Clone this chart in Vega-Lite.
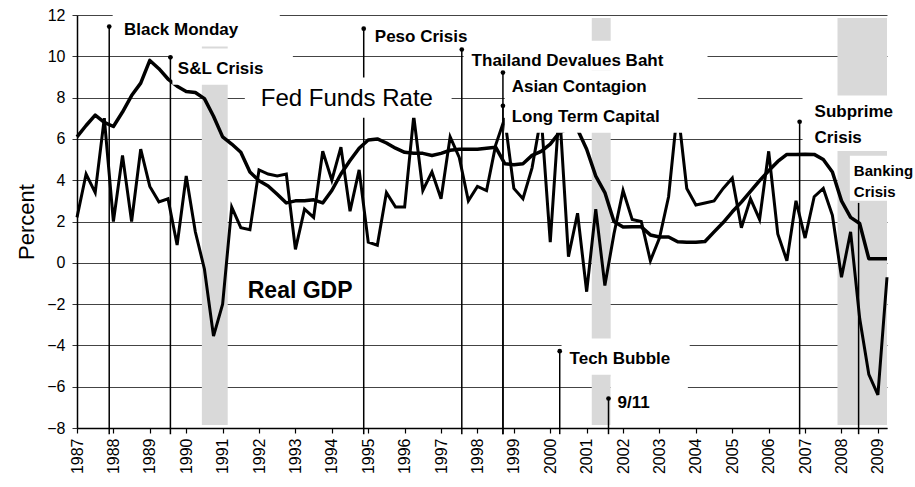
{
  "$schema": "https://vega.github.io/schema/vega-lite/v6.json",
  "width": 810,
  "height": 413,
  "autosize": {"type": "none"},
  "padding": {"left": 77, "top": 15, "right": 28, "bottom": 59},
  "background": "white",
  "config": {
    "view": {"stroke": null},
    "font": "Liberation Sans",
    "axis": {"labelColor": "black", "titleColor": "black", "labelFont": "Liberation Sans", "titleFont": "Liberation Sans"},
    "axisX": {"labelOverlap": false, "labelAngle": -90, "labelAlign": "right", "labelBaseline": "middle", "labelFontSize": 16, "labelPadding": 5, "tickSize": 5, "tickColor": "black", "tickWidth": 1.2, "domainColor": "black", "domainWidth": 1.5, "grid": false, "labelFlush": false},
    "axisY": {"labelOverlap": false, "labelFontSize": 16, "labelPadding": 7, "tickSize": 5, "tickColor": "#333", "domainColor": "black", "domainWidth": 1.5, "grid": true, "gridColor": "#444", "gridWidth": 1, "titleFontSize": 22, "titleFontWeight": "normal", "titlePadding": 8}
  },
  "datasets": {
    "series": [
      {"t": 1987.00, "gdp": 2.2, "ff": 6.1},
      {"t": 1987.25, "gdp": 4.3, "ff": 6.65},
      {"t": 1987.50, "gdp": 3.4, "ff": 7.15},
      {"t": 1987.75, "gdp": 7.0, "ff": 6.8},
      {"t": 1988.00, "gdp": 2.0, "ff": 6.6},
      {"t": 1988.25, "gdp": 5.2, "ff": 7.3},
      {"t": 1988.50, "gdp": 2.0, "ff": 8.1},
      {"t": 1988.75, "gdp": 5.5, "ff": 8.7},
      {"t": 1989.00, "gdp": 3.7, "ff": 9.8},
      {"t": 1989.25, "gdp": 2.95, "ff": 9.4},
      {"t": 1989.50, "gdp": 3.1, "ff": 8.9},
      {"t": 1989.75, "gdp": 0.86, "ff": 8.55},
      {"t": 1990.00, "gdp": 4.2, "ff": 8.3},
      {"t": 1990.25, "gdp": 1.5, "ff": 8.25},
      {"t": 1990.50, "gdp": -0.3, "ff": 7.95},
      {"t": 1990.75, "gdp": -3.55, "ff": 7.1},
      {"t": 1991.00, "gdp": -2.0, "ff": 6.1},
      {"t": 1991.25, "gdp": 2.7, "ff": 5.75},
      {"t": 1991.50, "gdp": 1.7, "ff": 5.35},
      {"t": 1991.75, "gdp": 1.6, "ff": 4.4},
      {"t": 1992.00, "gdp": 4.5, "ff": 3.97},
      {"t": 1992.25, "gdp": 4.3, "ff": 3.72},
      {"t": 1992.50, "gdp": 4.2, "ff": 3.32},
      {"t": 1992.75, "gdp": 4.3, "ff": 2.9},
      {"t": 1993.00, "gdp": 0.65, "ff": 3.0},
      {"t": 1993.25, "gdp": 2.6, "ff": 3.0},
      {"t": 1993.50, "gdp": 2.2, "ff": 3.05},
      {"t": 1993.75, "gdp": 5.4, "ff": 2.9},
      {"t": 1994.00, "gdp": 4.0, "ff": 3.5},
      {"t": 1994.25, "gdp": 5.6, "ff": 4.3},
      {"t": 1994.50, "gdp": 2.5, "ff": 4.95},
      {"t": 1994.75, "gdp": 4.5, "ff": 5.55},
      {"t": 1995.00, "gdp": 1.0, "ff": 5.95},
      {"t": 1995.25, "gdp": 0.85, "ff": 6.0},
      {"t": 1995.50, "gdp": 3.4, "ff": 5.8},
      {"t": 1995.75, "gdp": 2.7, "ff": 5.55},
      {"t": 1996.00, "gdp": 2.7, "ff": 5.35},
      {"t": 1996.25, "gdp": 7.1, "ff": 5.3},
      {"t": 1996.50, "gdp": 3.5, "ff": 5.3},
      {"t": 1996.75, "gdp": 4.4, "ff": 5.2},
      {"t": 1997.00, "gdp": 3.1, "ff": 5.3},
      {"t": 1997.25, "gdp": 6.1, "ff": 5.45},
      {"t": 1997.50, "gdp": 5.1, "ff": 5.5},
      {"t": 1997.75, "gdp": 3.0, "ff": 5.5},
      {"t": 1998.00, "gdp": 3.7, "ff": 5.5},
      {"t": 1998.25, "gdp": 3.5, "ff": 5.55},
      {"t": 1998.50, "gdp": 5.7, "ff": 5.6},
      {"t": 1998.75, "gdp": 7.0, "ff": 4.8},
      {"t": 1999.00, "gdp": 3.6, "ff": 4.75},
      {"t": 1999.25, "gdp": 3.1, "ff": 4.8},
      {"t": 1999.50, "gdp": 4.6, "ff": 5.2},
      {"t": 1999.75, "gdp": 7.1, "ff": 5.4},
      {"t": 2000.00, "gdp": 1.0, "ff": 5.75},
      {"t": 2000.25, "gdp": 7.5, "ff": 6.3},
      {"t": 2000.50, "gdp": 0.3, "ff": 6.5},
      {"t": 2000.75, "gdp": 2.4, "ff": 6.45},
      {"t": 2001.00, "gdp": -1.4, "ff": 5.5},
      {"t": 2001.25, "gdp": 2.6, "ff": 4.2},
      {"t": 2001.50, "gdp": -1.1, "ff": 3.4},
      {"t": 2001.75, "gdp": 1.4, "ff": 2.0},
      {"t": 2002.00, "gdp": 3.5, "ff": 1.73},
      {"t": 2002.25, "gdp": 2.1, "ff": 1.75},
      {"t": 2002.50, "gdp": 2.0, "ff": 1.74},
      {"t": 2002.75, "gdp": 0.1, "ff": 1.35},
      {"t": 2003.00, "gdp": 1.2, "ff": 1.25},
      {"t": 2003.25, "gdp": 3.2, "ff": 1.25},
      {"t": 2003.50, "gdp": 7.5, "ff": 1.02},
      {"t": 2003.75, "gdp": 3.6, "ff": 1.0},
      {"t": 2004.00, "gdp": 2.8, "ff": 1.0},
      {"t": 2004.25, "gdp": 2.9, "ff": 1.03},
      {"t": 2004.50, "gdp": 3.0, "ff": 1.5},
      {"t": 2004.75, "gdp": 3.6, "ff": 1.95},
      {"t": 2005.00, "gdp": 4.1, "ff": 2.47},
      {"t": 2005.25, "gdp": 1.7, "ff": 2.94},
      {"t": 2005.50, "gdp": 3.1, "ff": 3.46},
      {"t": 2005.75, "gdp": 2.1, "ff": 3.98},
      {"t": 2006.00, "gdp": 5.4, "ff": 4.46},
      {"t": 2006.25, "gdp": 1.4, "ff": 4.91},
      {"t": 2006.50, "gdp": 0.1, "ff": 5.25},
      {"t": 2006.75, "gdp": 3.0, "ff": 5.25},
      {"t": 2007.00, "gdp": 1.2, "ff": 5.26},
      {"t": 2007.25, "gdp": 3.2, "ff": 5.25},
      {"t": 2007.50, "gdp": 3.6, "ff": 5.0},
      {"t": 2007.75, "gdp": 2.3, "ff": 4.4},
      {"t": 2008.00, "gdp": -0.7, "ff": 3.0},
      {"t": 2008.25, "gdp": 1.5, "ff": 2.2},
      {"t": 2008.50, "gdp": -2.7, "ff": 1.9},
      {"t": 2008.75, "gdp": -5.4, "ff": 0.2},
      {"t": 2009.00, "gdp": -6.4, "ff": 0.2},
      {"t": 2009.25, "gdp": -0.7, "ff": 0.2}
    ],
    "recessions": [
      {"start": 1990.43, "end": 1991.14},
      {"start": 2001.14, "end": 2001.66},
      {"start": 2007.89, "end": 2009.25}
    ],
    "events": [
      {"name": "Black Monday", "t": 1987.885, "top": 11.44, "dot": true},
      {"name": "S&L Crisis", "t": 1989.566, "top": 9.95, "dot": true},
      {"name": "Peso Crisis", "t": 1994.876, "top": 11.34, "dot": true},
      {"name": "Thailand Devalues Baht", "t": 1997.57, "top": 10.33, "dot": true},
      {"name": "Asian Contagion", "t": 1998.70, "top": 9.21, "dot": true},
      {"name": "Long Term Capital", "t": 1998.70, "top": 7.6, "dot": true},
      {"name": "Tech Bubble", "t": 2000.26, "top": -4.28, "dot": true},
      {"name": "9/11", "t": 2001.6, "top": -6.57, "dot": true},
      {"name": "Subprime Crisis", "t": 2006.85, "top": 6.83, "dot": true},
      {"name": "Banking Crisis", "t": 2008.47, "top": 2.9, "dot": false}
    ],
    "labelBoxes": [
      {"x1": 1987.98, "x2": 1992.57, "y1": 12.6, "y2": 10.47},
      {"x1": 1989.62, "x2": 1992.93, "y1": 10.38, "y2": 8.62},
      {"x1": 1997.62, "x2": 2004.32, "y1": 10.75, "y2": 9.3},
      {"x1": 1998.75, "x2": 2004.05, "y1": 9.3, "y2": 6.3},
      {"x1": 1991.61, "x2": 1997.29, "y1": 8.97, "y2": 7.02},
      {"x1": 2006.93, "x2": 2009.6, "y1": 8.1, "y2": 5.42},
      {"x1": 2008.23, "x2": 2009.6, "y1": 5.18, "y2": 3.0},
      {"x1": 2000.31, "x2": 2003.83, "y1": -3.66, "y2": -5.42},
      {"x1": 2001.66, "x2": 2003.78, "y1": -5.5, "y2": -7.93}
    ],
    "labels": [
      {"text": "Black Monday", "t": 1988.29, "v": 11.25, "kind": "event"},
      {"text": "S&L Crisis", "t": 1989.77, "v": 9.4, "kind": "event"},
      {"text": "Peso Crisis", "t": 1995.18, "v": 10.95, "kind": "event"},
      {"text": "Thailand Devalues Baht", "t": 1997.84, "v": 9.79, "kind": "event"},
      {"text": "Asian Contagion", "t": 1998.94, "v": 8.53, "kind": "event"},
      {"text": "Long Term Capital", "t": 1998.94, "v": 7.07, "kind": "event"},
      {"text": "Tech Bubble", "t": 2000.53, "v": -4.64, "kind": "event"},
      {"text": "9/11", "t": 2001.85, "v": -6.78, "kind": "event"},
      {"text": "Subprime", "t": 2007.26, "v": 7.3, "kind": "event"},
      {"text": "Crisis", "t": 2007.26, "v": 6.05, "kind": "event"},
      {"text": "Banking", "t": 2008.34, "v": 4.45, "kind": "small"},
      {"text": "Crisis", "t": 2008.34, "v": 3.42, "kind": "small"},
      {"text": "Fed Funds Rate", "t": 1992.05, "v": 7.95, "kind": "series"},
      {"text": "Real GDP", "t": 1991.69, "v": -1.37, "kind": "seriesBold"}
    ]
  },
  "layer": [
    {
      "data": {"name": "recessions"},
      "mark": {"type": "rect", "fill": "#d9d9d9", "stroke": null},
      "encoding": {
        "x": {"field": "start", "type": "quantitative", "scale": {"domain": [1987, 2009.25], "nice": false, "zero": false},
              "axis": {"title": null, "format": "d", "labelOverlap": false, "values": [1987,1988,1989,1990,1991,1992,1993,1994,1995,1996,1997,1998,1999,2000,2001,2002,2003,2004,2005,2006,2007,2008,2009]}},
        "x2": {"field": "end"},
        "y": {"datum": 11.85, "type": "quantitative", "scale": {"domain": [-8, 12], "nice": false, "zero": false},
              "axis": {"title": "Percent", "values": [-8,-6,-4,-2,0,2,4,6,8,10,12]}},
        "y2": {"datum": -7.85}
      }
    },
    {
      "data": {"name": "events"},
      "mark": {"type": "rule", "color": "black", "strokeWidth": 1.5},
      "encoding": {
        "x": {"field": "t", "type": "quantitative", "scale": {"domain": [1987, 2009.25], "nice": false, "zero": false},
              "axis": {"title": null, "format": "d", "labelOverlap": false, "values": [1987,1988,1989,1990,1991,1992,1993,1994,1995,1996,1997,1998,1999,2000,2001,2002,2003,2004,2005,2006,2007,2008,2009]}},
        "y": {"field": "top", "type": "quantitative", "scale": {"domain": [-8, 12], "nice": false, "zero": false},
              "axis": {"title": "Percent", "values": [-8,-6,-4,-2,0,2,4,6,8,10,12]}},
        "y2": {"datum": -8.3}
      }
    },
    {
      "data": {"name": "series"},
      "mark": {"type": "line", "color": "black", "strokeWidth": 3, "strokeJoin": "miter"},
      "encoding": {
        "x": {"field": "t", "type": "quantitative", "scale": {"domain": [1987, 2009.25], "nice": false, "zero": false},
              "axis": {"title": null, "format": "d", "labelOverlap": false, "values": [1987,1988,1989,1990,1991,1992,1993,1994,1995,1996,1997,1998,1999,2000,2001,2002,2003,2004,2005,2006,2007,2008,2009]}},
        "y": {"field": "gdp", "type": "quantitative", "scale": {"domain": [-8, 12], "nice": false, "zero": false},
              "axis": {"title": "Percent", "values": [-8,-6,-4,-2,0,2,4,6,8,10,12]}}
      }
    },
    {
      "data": {"name": "series"},
      "mark": {"type": "line", "color": "black", "strokeWidth": 3.5, "strokeJoin": "round"},
      "encoding": {
        "x": {"field": "t", "type": "quantitative", "scale": {"domain": [1987, 2009.25], "nice": false, "zero": false},
              "axis": {"title": null, "format": "d", "labelOverlap": false, "values": [1987,1988,1989,1990,1991,1992,1993,1994,1995,1996,1997,1998,1999,2000,2001,2002,2003,2004,2005,2006,2007,2008,2009]}},
        "y": {"field": "ff", "type": "quantitative", "scale": {"domain": [-8, 12], "nice": false, "zero": false},
              "axis": {"title": "Percent", "values": [-8,-6,-4,-2,0,2,4,6,8,10,12]}}
      }
    },
    {
      "data": {"name": "labelBoxes"},
      "mark": {"type": "rect", "fill": "white", "stroke": null},
      "encoding": {
        "x": {"field": "x1", "type": "quantitative", "scale": {"domain": [1987, 2009.25], "nice": false, "zero": false},
              "axis": {"title": null, "format": "d", "labelOverlap": false, "values": [1987,1988,1989,1990,1991,1992,1993,1994,1995,1996,1997,1998,1999,2000,2001,2002,2003,2004,2005,2006,2007,2008,2009]}},
        "x2": {"field": "x2"},
        "y": {"field": "y1", "type": "quantitative", "scale": {"domain": [-8, 12], "nice": false, "zero": false},
              "axis": {"title": "Percent", "values": [-8,-6,-4,-2,0,2,4,6,8,10,12]}},
        "y2": {"field": "y2"}
      }
    },
    {
      "data": {"name": "events"},
      "transform": [{"filter": "datum.dot"}],
      "mark": {"type": "point", "filled": true, "color": "black", "size": 22, "opacity": 1},
      "encoding": {
        "x": {"field": "t", "type": "quantitative", "scale": {"domain": [1987, 2009.25], "nice": false, "zero": false},
              "axis": {"title": null, "format": "d", "labelOverlap": false, "values": [1987,1988,1989,1990,1991,1992,1993,1994,1995,1996,1997,1998,1999,2000,2001,2002,2003,2004,2005,2006,2007,2008,2009]}},
        "y": {"field": "top", "type": "quantitative", "scale": {"domain": [-8, 12], "nice": false, "zero": false},
              "axis": {"title": "Percent", "values": [-8,-6,-4,-2,0,2,4,6,8,10,12]}}
      }
    },
    {
      "data": {"name": "labels"},
      "transform": [{"filter": "datum.kind === 'event'"}],
      "mark": {"type": "text", "align": "left", "baseline": "middle", "font": "Liberation Sans", "fontWeight": "bold", "fontSize": 17, "color": "black"},
      "encoding": {
        "x": {"field": "t", "type": "quantitative", "scale": {"domain": [1987, 2009.25], "nice": false, "zero": false},
              "axis": {"title": null, "format": "d", "labelOverlap": false, "values": [1987,1988,1989,1990,1991,1992,1993,1994,1995,1996,1997,1998,1999,2000,2001,2002,2003,2004,2005,2006,2007,2008,2009]}},
        "y": {"field": "v", "type": "quantitative", "scale": {"domain": [-8, 12], "nice": false, "zero": false},
              "axis": {"title": "Percent", "values": [-8,-6,-4,-2,0,2,4,6,8,10,12]}},
        "text": {"field": "text"}
      }
    },
    {
      "data": {"name": "labels"},
      "transform": [{"filter": "datum.kind === 'small'"}],
      "mark": {"type": "text", "align": "left", "baseline": "middle", "font": "Liberation Sans", "fontWeight": "bold", "fontSize": 15, "color": "black"},
      "encoding": {
        "x": {"field": "t", "type": "quantitative", "scale": {"domain": [1987, 2009.25], "nice": false, "zero": false},
              "axis": {"title": null, "format": "d", "labelOverlap": false, "values": [1987,1988,1989,1990,1991,1992,1993,1994,1995,1996,1997,1998,1999,2000,2001,2002,2003,2004,2005,2006,2007,2008,2009]}},
        "y": {"field": "v", "type": "quantitative", "scale": {"domain": [-8, 12], "nice": false, "zero": false},
              "axis": {"title": "Percent", "values": [-8,-6,-4,-2,0,2,4,6,8,10,12]}},
        "text": {"field": "text"}
      }
    },
    {
      "data": {"name": "labels"},
      "transform": [{"filter": "datum.kind === 'series'"}],
      "mark": {"type": "text", "align": "left", "baseline": "middle", "font": "Liberation Sans", "fontWeight": "normal", "fontSize": 24, "color": "black"},
      "encoding": {
        "x": {"field": "t", "type": "quantitative", "scale": {"domain": [1987, 2009.25], "nice": false, "zero": false},
              "axis": {"title": null, "format": "d", "labelOverlap": false, "values": [1987,1988,1989,1990,1991,1992,1993,1994,1995,1996,1997,1998,1999,2000,2001,2002,2003,2004,2005,2006,2007,2008,2009]}},
        "y": {"field": "v", "type": "quantitative", "scale": {"domain": [-8, 12], "nice": false, "zero": false},
              "axis": {"title": "Percent", "values": [-8,-6,-4,-2,0,2,4,6,8,10,12]}},
        "text": {"field": "text"}
      }
    },
    {
      "data": {"name": "labels"},
      "transform": [{"filter": "datum.kind === 'seriesBold'"}],
      "mark": {"type": "text", "align": "left", "baseline": "middle", "font": "Liberation Sans", "fontWeight": "bold", "fontSize": 23, "color": "black"},
      "encoding": {
        "x": {"field": "t", "type": "quantitative", "scale": {"domain": [1987, 2009.25], "nice": false, "zero": false},
              "axis": {"title": null, "format": "d", "labelOverlap": false, "values": [1987,1988,1989,1990,1991,1992,1993,1994,1995,1996,1997,1998,1999,2000,2001,2002,2003,2004,2005,2006,2007,2008,2009]}},
        "y": {"field": "v", "type": "quantitative", "scale": {"domain": [-8, 12], "nice": false, "zero": false},
              "axis": {"title": "Percent", "values": [-8,-6,-4,-2,0,2,4,6,8,10,12]}},
        "text": {"field": "text"}
      }
    }
  ]
}
